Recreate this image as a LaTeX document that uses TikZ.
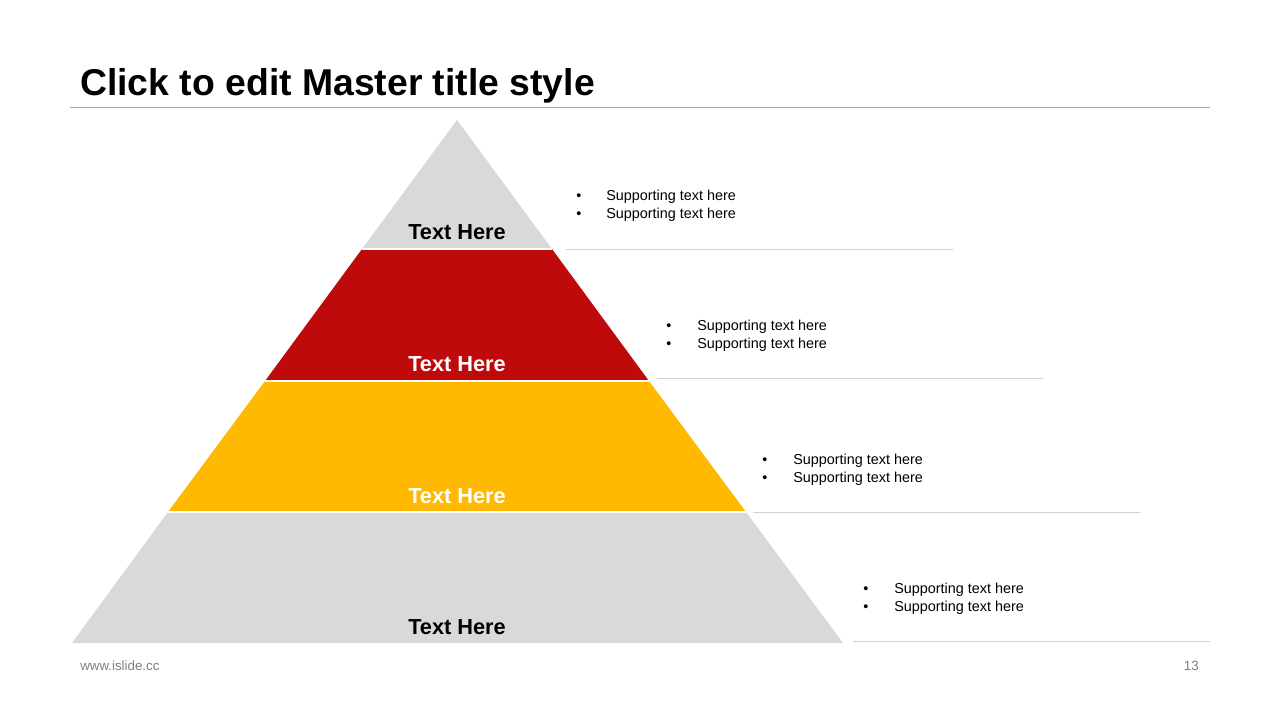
\documentclass[tikz,border=0pt]{standalone}
\usepackage{fontspec}
\setmainfont{Liberation Sans}
\definecolor{lgray}{HTML}{D9D9D9}
\definecolor{dred}{HTML}{BE0A0A}
\definecolor{ylw}{HTML}{FFB900}
\definecolor{rule}{HTML}{D0D0D0}
\definecolor{foot}{HTML}{808080}
\begin{document}
\begin{tikzpicture}[x=0.75pt,y=-0.75pt,
  layer/.style={draw=white,line width=1.5pt},
  lvl/.style={font=\bfseries\fontsize{16.3}{19}\selectfont,anchor=base,inner sep=0pt},
  sup/.style={font=\fontsize{10.8}{13}\selectfont,anchor=base west,inner sep=0pt},
  sepline/.style={draw=rule,line width=0.75pt}]
\useasboundingbox[fill=white] (0,0) rectangle (1280,720);
% title
\node[font=\bfseries\fontsize{28}{33}\selectfont,anchor=base west,inner sep=0pt] (title) at (80,96) {Click to edit Master title style};
\coordinate (tl) at (70,108); \coordinate (tr) at (1210,108);
\draw[draw=black!35,line width=0.75pt] (tl) -- (tr);
% pyramid
\coordinate (apex) at (457,120);
\coordinate (l1) at (362,249); \coordinate (r1) at (552,249);
\coordinate (l2) at (265,381); \coordinate (r2) at (649,381);
\coordinate (l3) at (168,512); \coordinate (r3) at (746,512);
\coordinate (l4) at (72,643); \coordinate (r4) at (843,643);
\fill[lgray] (apex) -- (r1) -- (l1) -- cycle;
\fill[dred] (l1) -- (r1) -- (r2) -- (l2) -- cycle;
\fill[ylw] (l2) -- (r2) -- (r3) -- (l3) -- cycle;
\fill[lgray] (l3) -- (r3) -- (r4) -- (l4) -- cycle;
\draw[layer] (l1) -- (r1) (l2) -- (r2) (l3) -- (r3);
\node[lvl] (t1) at (457,239) {Text Here};
\node[lvl,text=white] (t2) at (457,371) {Text Here};
\node[lvl,text=white] (t3) at (457,503) {Text Here};
\node[lvl] (t4) at (457,634) {Text Here};
% supporting text
\foreach \i/\bx/\tx/\ya/\yb in {1/576/606/201/219, 2/666/697/330/348, 3/762/793/464/482, 4/863/894/593/611}{
  \node[sup] (b\i a) at (\bx,\ya) {•};
  \node[sup] (s\i a) at (\tx,\ya) {Supporting text here};
  \node[sup] (b\i b) at (\bx,\yb) {•};
  \node[sup] (s\i b) at (\tx,\yb) {Supporting text here};
}
\coordinate (la1) at (566,249); \coordinate (lb1) at (953,249);
\coordinate (la2) at (657,378); \coordinate (lb2) at (1043,378);
\coordinate (la3) at (753,512); \coordinate (lb3) at (1140,512);
\coordinate (la4) at (853,641); \coordinate (lb4) at (1210,641);
\draw[sepline] (la1) -- (lb1) (la2) -- (lb2) (la3) -- (lb3) (la4) -- (lb4);
% footer
\node[font=\fontsize{10}{12}\selectfont,text=foot,anchor=base west,inner sep=0pt] (url) at (80,670) {www.islide.cc};
\node[font=\fontsize{10}{12}\selectfont,text=foot,anchor=base east,inner sep=0pt] (pg) at (1199,670) {13};
\end{tikzpicture}
\end{document}
